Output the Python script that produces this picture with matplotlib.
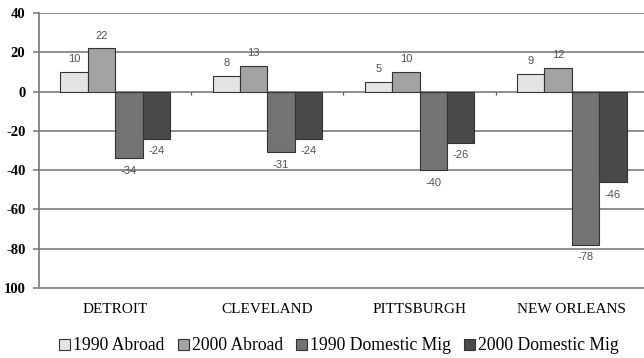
import matplotlib
matplotlib.use("Agg")
import matplotlib.pyplot as plt
import numpy as np

cities = ["DETROIT", "CLEVELAND", "PITTSBURGH", "NEW ORLEANS"]
series_names = ["1990 Abroad", "2000 Abroad", "1990 Domestic Mig", "2000 Domestic Mig"]
abroad_1990 = [10, 8, 5, 9]
abroad_2000 = [22, 13, 10, 12]
domestic_1990 = [-34, -31, -40, -78]
domestic_2000 = [-24, -24, -26, -46]
y_ticks = [40, 20, 0, -20, -40, -60, -80, -100]
y_tick_labels = ["40", "20", "0", "-20", "-40", "-60", "-80", "100"]

colors = ["#e4e4e4", "#a3a3a3", "#737373", "#4a4a4a"]
series = [abroad_1990, abroad_2000, domestic_1990, domestic_2000]

fig = plt.figure(figsize=(6.44, 3.58), dpi=100)
ax = fig.add_axes([39 / 644, 1 - 288 / 358, 1 - 39 / 644, (288 - 13) / 358])

x = np.arange(len(cities))
width = 0.18
offsets = (np.arange(len(series)) - 1.5) * width

for vals, off, col, name in zip(series, offsets, colors, series_names):
    bars = ax.bar(x + off, vals, width, color=col, edgecolor="#333333",
                  linewidth=0.8, label=name, zorder=3)
    for b, v in zip(bars, vals):
        cx = b.get_x() + b.get_width() / 2
        dy = 5.5 if v >= 0 else -5.5
        ax.annotate(str(v), (cx, v), xytext=(0, dy), textcoords="offset points",
                    ha="center", va="bottom" if v >= 0 else "top",
                    fontsize=8, color="#505050", family="Liberation Sans", zorder=4)

ax.set_ylim(-100, 40)
ax.set_xlim(-0.5, len(cities) - 0.5 - 4 / 152.4)
ax.set_yticks(y_ticks)
ax.set_yticklabels(y_tick_labels, family="Liberation Serif", fontweight="bold", fontsize=10.5)
ax.yaxis.grid(True, color="#8f8f8f", linewidth=1.4, zorder=0)
ax.set_axisbelow(True)

# category separator ticks along the zero line
ax.vlines(x[:-1] + 0.5, -1.6, 0, color="#555555", linewidth=0.9, zorder=2)

ax.set_xticks(x)
ax.set_xticklabels(cities, family="Liberation Serif", fontsize=11)
ax.tick_params(axis="x", length=0, pad=11)
ax.tick_params(axis="y", length=4.3, width=1.1, color="#777777", pad=5.5)

for s in ["top", "right"]:
    ax.spines[s].set_visible(False)
ax.spines["left"].set_color("#777777")
ax.spines["left"].set_linewidth(1.2)
ax.spines["bottom"].set_color("#8f8f8f")
ax.spines["bottom"].set_linewidth(1.4)

fig.legend(loc="center", bbox_to_anchor=(339 / 644, 1 - 346 / 358), ncol=4,
           frameon=False, prop={"family": "Liberation Serif", "size": 12.7},
           handlelength=0.62, handleheight=0.62, handletextpad=0.17,
           columnspacing=0.74, borderaxespad=0, borderpad=0)

fig.savefig("out.png", dpi=100)
